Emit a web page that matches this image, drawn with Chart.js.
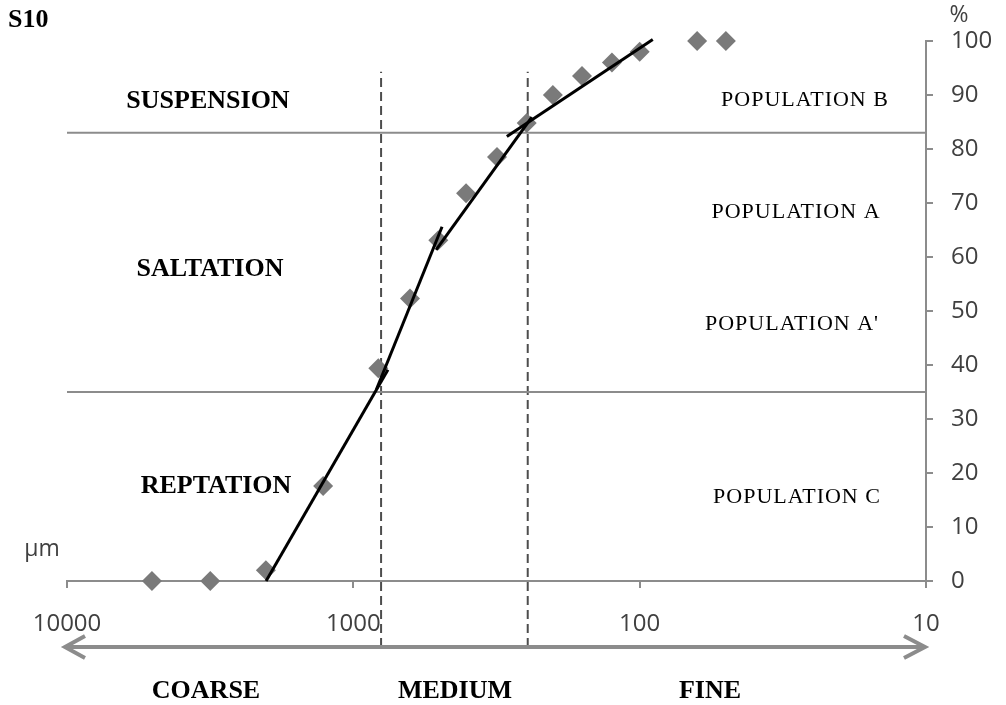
<!DOCTYPE html>
<html>
<head>
<meta charset="utf-8">
<script src="https://cdn.jsdelivr.net/npm/chart.js@4/dist/chart.umd.min.js"></script>
<style>
  html, body { margin: 0; padding: 0; background: #fff; }
  #wrap { width: 1006px; height: 705px; position: relative; }
</style>
</head>
<body>
<div id="wrap"><canvas id="c"></canvas></div>
<script>
// grain size (µm) and cumulative percentage of sample S10
const xTicks = [10000, 1000, 100, 10];
const sizes  = [5050, 3160, 2020, 1275, 818, 634, 505, 404, 315, 248, 201, 159, 125, 100, 63, 50];
const cumPct = [0, 0, 2, 17.6, 39.4, 52.3, 63.1, 71.8, 78.5, 84.8, 90.0, 93.5, 96.0, 98.0, 100, 100];

// fitted straight segments [size, %]
const fitReptation = [[2017, 0], [757, 39.1]];
const fitPopA2     = [[830, 35.5], [490, 65.6]];
const fitPopA      = [[514, 61.3], [238, 85.9]];
const fitPopB      = [[291, 82.3], [90, 100.3]];

// transport mode limits (%) and size class limits (µm)
const modeLimits = [83, 35];
const classLimits = [800, 246];

const grey = '#8c8c8c';
const pts = arr => arr.map(([x, y]) => ({ x, y }));

const datasets = [];
[fitReptation, fitPopA2, fitPopA, fitPopB].forEach(seg => {
  datasets.push({ type: 'scatter', data: pts(seg), showLine: true, borderColor: '#000', borderWidth: 3,
    pointRadius: 0, order: 0, clip: false });
});
datasets.push({ type: 'scatter', data: sizes.map((s, i) => ({ x: s, y: cumPct[i] })), pointStyle: 'rectRot',
  pointRadius: 10, backgroundColor: '#7a7a7a', borderWidth: 0, order: 1, clip: false });
modeLimits.forEach(v => {
  datasets.push({ type: 'scatter', data: [{ x: 10000, y: v }, { x: 10, y: v }], showLine: true,
    borderColor: grey, borderWidth: 2, pointRadius: 0, order: 2 });
});
classLimits.forEach(v => {
  datasets.push({ type: 'scatter', data: [{ x: v, y: -12.2 }, { x: v, y: 94.3 }], showLine: true,
    borderColor: '#4d4d4d', borderWidth: 2, borderDash: [9, 5], pointRadius: 0, order: 3, clip: false });
});

const labels = [
  ['S10', 8, 20, 'bold 26px "Liberation Serif"', 'left'],
  ['SUSPENSION', 208, 101, 'bold 26px "Liberation Serif"', 'center'],
  ['SALTATION', 210, 269, 'bold 26px "Liberation Serif"', 'center'],
  ['REPTATION', 216, 486, 'bold 26px "Liberation Serif"', 'center'],
  ['COARSE', 206, 691, 'bold 26px "Liberation Serif"', 'center'],
  ['MEDIUM', 455, 691, 'bold 26px "Liberation Serif"', 'center'],
  ['FINE', 710, 691, 'bold 26px "Liberation Serif"', 'center'],
  ['POPULATION B', 805, 100, '22px "Liberation Serif"', 'center'],
  ['POPULATION A', 796, 212, '22px "Liberation Serif"', 'center'],
  ["POPULATION A'", 792, 324, '22px "Liberation Serif"', 'center'],
  ['POPULATION C', 797, 497, '22px "Liberation Serif"', 'center']
];

const overlay = {
  id: 'overlay',
  afterDraw(chart) {
    const { ctx, scales: { x } } = chart;
    ctx.save();
    // size direction arrow
    const x0 = x.getPixelForValue(10000) - 2, x1 = x.getPixelForValue(10) - 1, ay = 647;
    ctx.strokeStyle = grey;
    ctx.lineWidth = 4;
    ctx.beginPath();
    ctx.moveTo(x0 + 2, ay); ctx.lineTo(x1 - 2, ay);
    ctx.moveTo(x0 + 20, ay - 11); ctx.lineTo(x0, ay); ctx.lineTo(x0 + 20, ay + 11);
    ctx.moveTo(x1 - 21, ay - 11); ctx.lineTo(x1, ay); ctx.lineTo(x1 - 21, ay + 11);
    ctx.stroke();

    ctx.textBaseline = 'middle';
    ctx.fillStyle = '#000';
    labels.forEach(([t, lx, ly, f, a]) => {
      ctx.font = f;
      ctx.textAlign = a;
      ctx.letterSpacing = f.startsWith('bold') ? '0px' : '1px';
      ctx.fillText(t, lx, ly);
    });
    ctx.letterSpacing = '0px';
    ctx.fillStyle = '#404040';
    ctx.font = '23px "Open Sans"';
    ctx.textAlign = 'center';
    ctx.fillText('%', 959, 15);
    ctx.fillText('µm', 42, 549);
    ctx.restore();
  }
};

new Chart(document.getElementById('c'), {
  type: 'scatter',
  data: { datasets },
  options: {
    responsive: true,
    maintainAspectRatio: false,
    animation: false,
    layout: { padding: { left: 67, top: 41, right: 0, bottom: 0 } },
    plugins: { legend: { display: false }, tooltip: { enabled: false } },
    scales: {
      x: {
        type: 'logarithmic', position: 'bottom', reverse: true, min: 10, max: 10000,
        afterFit: s => { s.height = 124; },
        afterBuildTicks: s => { s.ticks = xTicks.map(v => ({ value: v })); },
        grid: { drawOnChartArea: false, drawTicks: true, tickLength: 7, color: grey, lineWidth: 2 },
        border: { display: true, color: grey, width: 2 },
        ticks: { color: '#404040', font: { family: 'Open Sans', size: 24 }, padding: 22,
          maxRotation: 0, autoSkip: false, callback: v => String(v) }
      },
      y: {
        type: 'linear', position: 'right', min: 0, max: 100,
        afterFit: s => { s.width = 80; },
        grid: { drawOnChartArea: false, drawTicks: true, tickLength: 7, color: grey, lineWidth: 2 },
        border: { display: true, color: grey, width: 2 },
        ticks: { stepSize: 10, color: '#404040', font: { family: 'Open Sans', size: 24 }, padding: 18 }
      }
    }
  },
  plugins: [overlay]
});
</script>
</body>
</html>
